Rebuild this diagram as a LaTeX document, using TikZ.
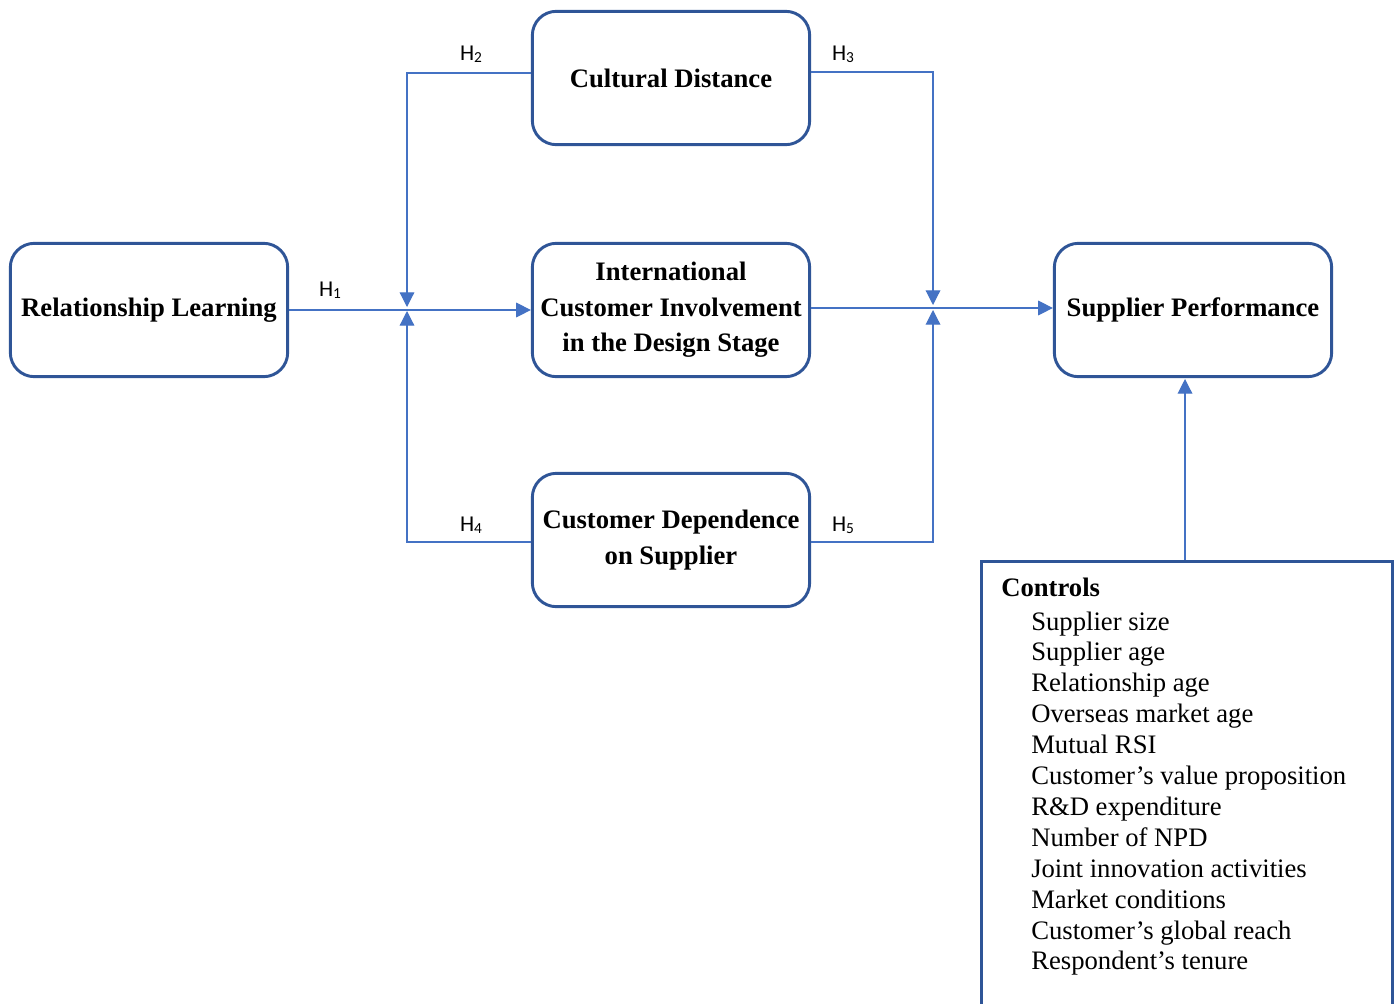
\documentclass[tikz,border=0pt]{standalone}
\usepackage{fontspec}
\setmainfont{Liberation Serif}
\newfontfamily\hfont{Carlito}
\usetikzlibrary{arrows.meta}
\usetikzlibrary{positioning}
\definecolor{mblue}{HTML}{2F5597}
\definecolor{lblue}{HTML}{4472C4}
\newcommand{\hsub}[1]{H\raisebox{-1.5pt}{\fontsize{11.5}{12}\selectfont #1}}
\tikzset{var/.style = {draw=mblue, line width=2.2pt, rounded corners=18pt, minimum width=208pt, minimum height=100pt, align=center, inner sep=2pt, font=\bfseries\fontsize{20}{26.6}\selectfont}}
\tikzset{link/.style = {draw=lblue, line width=0.9pt, -{Triangle[length=11pt,width=11pt]}}}
\tikzset{hyp/.style = {font=\hfont\fontsize{17}{18}\selectfont}}
\tikzset{ctrlbox/.style = {draw=mblue, line width=2.2pt, rectangle, minimum width=308pt, minimum height=360pt, inner sep=0}}
\tikzset{ctrlitem/.style = {anchor=base west, inner sep=0, font=\fontsize{20}{24}\selectfont}}

\begin{document}
\begin{tikzpicture}[x=0.75pt, y=-0.75pt]
      \useasboundingbox (0,0) rectangle (1399,1003);

      \node [var] (rl) at (149, 310) {Relationship Learning};
      \node [var] (cd) at (671, 78) {Cultural Distance};
      \node [var] (ici) at (671, 310) {International\\Customer Involvement\\in the Design Stage};
      \node [var] (cds) at (671, 540) {Customer Dependence\\on Supplier};
      \node [var] (sp) at (1193, 310) {Supplier Performance};
      \node [ctrlbox, anchor=north west] (ctrl) at (980, 560) {};

      \coordinate (jl-top) at (407, 307);
      \coordinate (jl-bot) at (407, 311);
      \coordinate (jr-top) at (933, 305);
      \coordinate (jr-bot) at (933, 310);
      \coordinate (sp-in) at (1185, 379);

      \draw [link] (rl) -- (ici);
      \draw [link] ([yshift=1.5pt]ici.east) -- ([yshift=1.5pt]sp.west);
      \draw [link] ([yshift=3.75pt]cd.west) -| (jl-top);
      \draw [link] ([yshift=-1.5pt]cds.west) -| (jl-bot);
      \draw [link] ([yshift=4.5pt]cd.east) -| (jr-top);
      \draw [link] ([yshift=-1.5pt]cds.east) -| (jr-bot);
      \draw [link] (ctrl.north -| sp-in) -- (sp-in);

      \node [hyp] (h1) at (330, 290) {\hsub{1}};
      \node [hyp] (h2) at (471, 54) {\hsub{2}};
      \node [hyp] (h3) at (843, 54) {\hsub{3}};
      \node [hyp] (h4) at (471, 525) {\hsub{4}};
      \node [hyp] (h5) at (843, 525) {\hsub{5}};

      \node [ctrlitem, font=\bfseries\fontsize{20}{24}\selectfont] (head) at (1001, 596) {Controls};
      \foreach \lbl [count=\i] in {Supplier size, Supplier age, Relationship age,
        Overseas market age, Mutual RSI, Customer’s value proposition,
        R\&D expenditure, Number of NPD, Joint innovation activities,
        Market conditions, Customer’s global reach, Respondent’s tenure} {
        \node [ctrlitem] (c\i) at (1031, {630 + 30.9*(\i-1)}) {\lbl};
      }

    \end{tikzpicture}
\end{document}
